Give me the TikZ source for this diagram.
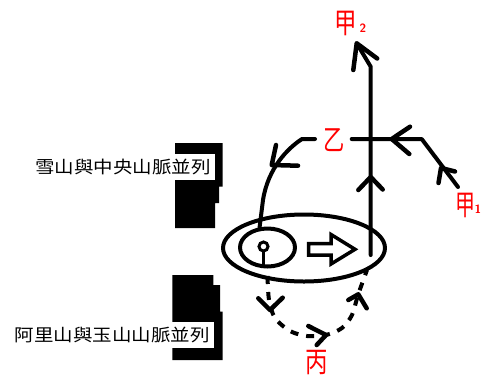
\documentclass[tikz,border=0pt]{standalone}
\usepackage{fontspec}
\usepackage{graphicx}
\newfontfamily\cjk{Noto Sans CJK TC}
\begin{document}
\begin{tikzpicture}[x=1pt,y=-1pt,
  ink/.style={line width=4pt, line cap=round, line join=round},
  barb/.style={line width=4.5pt, line cap=round, line join=round},
  dashline/.style={line width=4pt, dash pattern=on 8pt off 8pt},
  block/.style={fill=black},
  chain/.style={fill=white, inner xsep=4pt, inner ysep=0pt, minimum height=26pt,
    font=\cjk\fontsize{19.5}{20}\selectfont},
  redlbl/.style={text=red, inner sep=0pt, font=\cjk\fontsize{25}{25}\selectfont},
  subnum/.style={text=red, inner sep=0pt, font=\sffamily\bfseries\fontsize{12}{12}\selectfont},
]
\useasboundingbox (0,0) rectangle (481,381);

% mountain range blocks
\fill[block] (175,143) -- (222.7,143) -- (222.7,186.7) -- (219,186.7) -- (219,203)
  -- (215,203) -- (215,228) -- (175,228) -- cycle;
\fill[block] (172.3,275) -- (213.3,275) -- (213.3,285) -- (220,285) -- (220,311.7)
  -- (222.7,311.7) -- (222.7,360) -- (172.3,360) -- cycle;

% range labels
\node[chain] (snow) at (123,167) {\scalebox{1}[0.88]{雪山與中央山脈並列}};
\node[chain] (ali) at (112,334.5) {\scalebox{1}[0.88]{阿里山與玉山山脈並列}};

% basin: outer and inner ellipses
\draw[ink] (304,248) ellipse [x radius=81, y radius=33.5];
\draw[ink] (267.5,247.5) ellipse [x radius=27.5, y radius=19];
\draw[line width=3pt] (263.5,246.5) circle [radius=4.5];
\draw[line width=3pt] (263.5,251) -- (263.5,265);

% hollow arrow
\draw[line width=3.5pt, line join=miter]
  (308.5,243.5) -- (331,243.5) -- (331,234.5) -- (355,249.3) -- (331,264)
  -- (331,255) -- (308.5,255) -- cycle;

% vertical trunk towards 甲2
\coordinate (tb) at (370.7,255);
\coordinate (tk) at (370.7,66.7);
\coordinate (tt) at (356.7,43.3);
\draw[ink] (tb) -- (tk) -- (tt);
\draw[barb] (353.3,70) -- (tt) -- (377.2,58.5);
\draw[barb] (358.3,190) -- (370.7,177) -- (382.7,189.5);

% branch from 甲1
\coordinate (hl) at (351.7,139);
\coordinate (hr) at (421.7,139);
\coordinate (hd) at (458,187);
\draw[ink] (hl) -- (hr) -- (hd);
\draw[barb] (410,126.7) -- (391.7,139) -- (409.3,154);
\draw[barb] (438.5,183) -- (441,168) -- (455,171.5);

% curve from 乙 into the inner basin
\draw[ink] (315,139) -- (302,139) .. controls (288,148) and (268,168) .. (263,200) -- (259.5,228);
\draw[barb] (276,145) -- (271.7,165) -- (298,165.7);

% dashed return path via 丙
\draw[dashline] plot[smooth] coordinates {(267.5,276) (269,300) (275,318) (290,331)
  (307,336) (326,335) (342,328) (352,315) (358,295) (367,270)};
\draw[barb] (258.3,298.3) -- (270,310) -- (282.7,297.7);
\draw[barb] (308.3,326) -- (326,335) -- (316.7,345);
\draw[barb] (348.3,300) -- (358.3,294.3) -- (366.7,308.3);

% place labels
\node[redlbl, anchor=west] (jia2) at (334,23) {\scalebox{0.9}[1.15]{甲}};
\node[subnum, anchor=west] (jia2n) at (359.5,28) {2};
\node[redlbl, anchor=west] (jia1) at (455.5,205) {\scalebox{0.8}[1.15]{甲}};
\node[subnum, anchor=west] (jia1n) at (474.5,209) {1};
\node[redlbl] (yi) at (334,140) {\scalebox{0.85}[1.15]{乙}};
\node[redlbl] (bing) at (316.7,363) {\scalebox{0.9}[1.15]{丙}};
\end{tikzpicture}
\end{document}
